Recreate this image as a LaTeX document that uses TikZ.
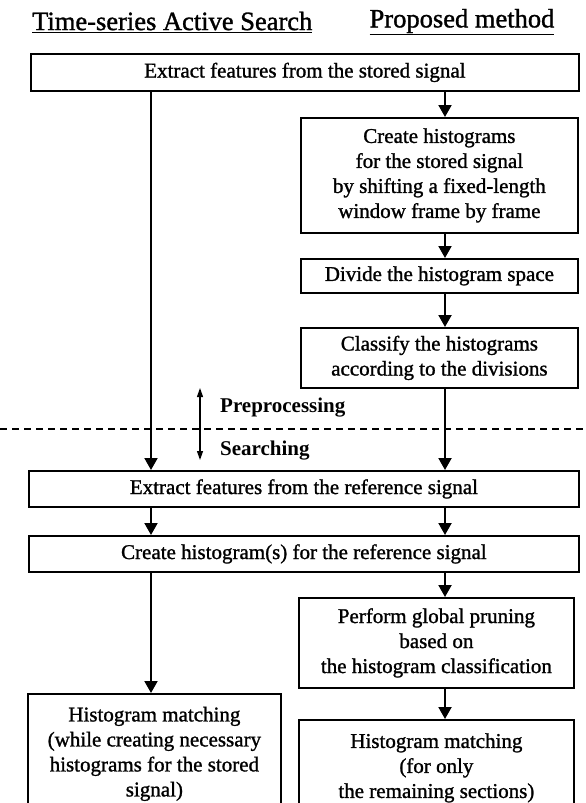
\documentclass[tikz,border=0pt]{standalone}
\usepackage{fontspec}
\setmainfont{Liberation Serif}
\newfontfamily\boxfont{Liberation Serif}[FakeBold=1.2]
\usetikzlibrary{arrows.meta}
\begin{document}
\begin{tikzpicture}[x=1pt,y=-1pt,
  box/.style={draw, line width=1.8pt, inner sep=0pt, align=center, anchor=north west, font=\boxfont\fontsize{21}{25}\selectfont},
  arr/.style={line width=2pt, -{Triangle[width=13pt,length=12pt]}},
  dbl/.style={line width=1.2pt, {Triangle[width=6pt,length=9pt]}-{Triangle[width=6pt,length=9pt]}},
  head/.style={inner sep=0pt, font=\boxfont\fontsize{26.5}{31}\selectfont},
  phase/.style={anchor=west, inner sep=0pt, font=\bfseries\fontsize{21}{25}\selectfont}]
\useasboundingbox (0,0) rectangle (586,803);
\fill[white] (0,0) rectangle (586,803);
\node[head, anchor=west] (h1) at (32,22) {\underline{Time-series Active Search}};
\node[head] (h2) at (462,22) {\underline{Proposed method}};

\node[box, minimum width=548pt, minimum height=37pt] (b1) at (30,53) {Extract features from the stored signal};
\node[box, minimum width=277pt, minimum height=115pt] (b2) at (300,117) {Create histograms\\for the stored signal\\by shifting a fixed-length\\window frame by frame};
\node[box, minimum width=277pt, minimum height=34pt] (b3) at (300,258) {Divide the histogram space};
\node[box, minimum width=277pt, minimum height=60pt] (b4) at (300,327) {Classify the histograms\\according to the divisions};
\node[box, minimum width=550pt, minimum height=36pt] (b5) at (28,470) {Extract features from the reference signal};
\node[box, minimum width=550pt, minimum height=36pt] (b6) at (28,535) {Create histogram(s) for the reference signal};
\node[box, minimum width=275pt, minimum height=90pt] (b7) at (298,597) {Perform global pruning\\based on\\the histogram classification};
\node[box, minimum width=275pt, minimum height=96pt] (b8) at (298,719) {Histogram matching\\(for only\\the remaining sections)};
\node[box, minimum width=253pt, minimum height=120pt] (b9) at (27,693) {Histogram matching\\(while creating necessary\\histograms for the stored\\signal)};

\coordinate (L) at (151,0);
\coordinate (R) at (445,0);
\draw[arr] (b1.south -| L) -- (b5.north -| L);
\draw[arr] (b5.south -| L) -- (b6.north -| L);
\draw[arr] (b6.south -| L) -- (b9.north -| L);
\draw[arr] (b1.south -| R) -- (b2.north -| R);
\draw[arr] (b2.south -| R) -- (b3.north -| R);
\draw[arr] (b3.south -| R) -- (b4.north -| R);
\draw[arr] (b4.south -| R) -- (b5.north -| R);
\draw[arr] (b5.south -| R) -- (b6.north -| R);
\draw[arr] (b6.south -| R) -- (b7.north -| R);
\draw[arr] (b7.south -| R) -- (b8.north -| R);

\coordinate (d1) at (0,429);
\coordinate (d2) at (586,429);
\draw[line width=1.4pt, dash pattern=on 7pt off 5pt] (d1) -- (d2);
\coordinate (u1) at (200,388);
\coordinate (u2) at (200,460);
\draw[dbl] (u1) -- (u2);
\node[phase] (pre) at (220,408) {Preprocessing};
\node[phase] (sea) at (220,451) {Searching};
\end{tikzpicture}
\end{document}
